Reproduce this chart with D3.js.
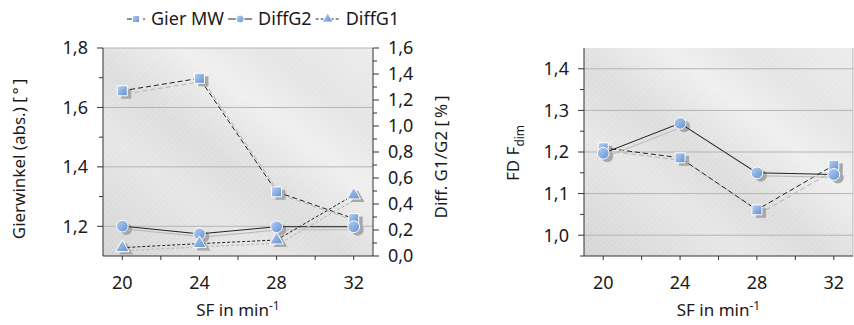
<!DOCTYPE html>
<html>
<head>
<meta charset="utf-8">
<script src="https://cdn.jsdelivr.net/npm/d3@7"></script>
<style>
  body { margin: 0; background: #fff; }
  text { font-family: "Noto Sans", sans-serif; fill: #1a1a1a; }
</style>
</head>
<body>
<script>
const width = 854;
const height = 325;

// data
const sf = [20, 24, 28, 32];
const gierMW = [1.656, 1.698, 1.316, 1.226];   // left axis
const diffG2 = [0.23, 0.17, 0.225, 0.225];     // right axis
const diffG1 = [0.064, 0.095, 0.123, 0.469];   // right axis
const fdSquares = [1.21, 1.186, 1.061, 1.168];
const fdCircles = [1.197, 1.269, 1.15, 1.146];

const xTicks = [20, 24, 28, 32];
const xMinor = [22, 26, 30];
const leftTicks = [1.2, 1.4, 1.6, 1.8];
const leftMinor = [1.3, 1.5, 1.7];
const rightTicks = [0, 0.2, 0.4, 0.6, 0.8, 1.0, 1.2, 1.4, 1.6];
const rightMinor = [0.1, 0.3, 0.5, 0.7, 0.9, 1.1, 1.3, 1.5];
const fdTicks = [1.0, 1.1, 1.2, 1.3, 1.4];
const fdMinor = [0.95, 1.05, 1.15, 1.25, 1.35];

const legendNames = ["Gier MW", "DiffG2", "DiffG1"];

const fmt = d3.formatLocale({decimal: ",", thousands: ".", grouping: [3], currency: ["", "€"]}).format(".1f");

const svg = d3.select('body').append('svg')
    .attr('width', width)
    .attr('height', height);

const defs = svg.append('defs');

const bg = defs.append('linearGradient').attr('id', 'bg')
    .attr('x1', 0).attr('y1', 1).attr('x2', 1).attr('y2', 0);
[[0, '#d4d4d4'], [0.3, '#e6e6e6'], [0.45, '#dcdcdc'], [0.65, '#efefef'], [0.8, '#e4e4e4'], [1, '#ececec']]
    .forEach(s => bg.append('stop').attr('offset', s[0]).attr('stop-color', s[1]));

const hatch = defs.append('pattern').attr('id', 'hatch')
    .attr('width', 4).attr('height', 4)
    .attr('patternUnits', 'userSpaceOnUse')
    .attr('patternTransform', 'rotate(45)');
hatch.append('line').attr('x1', 0).attr('y1', 0).attr('x2', 0).attr('y2', 4)
    .attr('stroke', '#fff').attr('stroke-width', 1).attr('opacity', 0.35);

const mk = defs.append('linearGradient').attr('id', 'mk')
    .attr('x1', 0).attr('y1', 0).attr('x2', 1).attr('y2', 1);
mk.append('stop').attr('offset', 0).attr('stop-color', '#b9d1f0');
mk.append('stop').attr('offset', 1).attr('stop-color', '#5f8fd4');

const symbols = {
    square: d3.symbol().type(d3.symbolSquare).size(100),
    circle: d3.symbol().type(d3.symbolCircle).size(110),
    triangle: d3.symbol().type(d3.symbolTriangle).size(80)
};
const dashes = {square: '5,3', circle: null, triangle: '3,2'};

function drawFrame(g, x, y, w, h) {
    g.append('rect').attr('x', x).attr('y', y).attr('width', w).attr('height', h).attr('fill', 'url(#bg)');
    g.append('rect').attr('x', x).attr('y', y).attr('width', w).attr('height', h).attr('fill', 'url(#hatch)');
}

function drawSeries(g, x, y, values, kind) {
    const line = d3.line().x((d, i) => x(sf[i])).y(d => y(d));
    // shadow
    const sh = g.append('g').attr('transform', 'translate(4,3)');
    sh.append('path').datum(values)
        .attr('fill', 'none').attr('stroke', '#bdbdbd').attr('stroke-width', 1.2)
        .attr('stroke-dasharray', dashes[kind]).attr('d', line);
    sh.selectAll('path.s').data(values).enter().append('path')
        .attr('class', 's')
        .attr('transform', (d, i) => `translate(${x(sf[i])},${y(d)})`)
        .attr('fill', '#a8a8a8')
        .attr('d', symbols[kind]);
    // main
    g.append('path').datum(values)
        .attr('fill', 'none').attr('stroke', '#222').attr('stroke-width', 1)
        .attr('stroke-dasharray', dashes[kind]).attr('d', line);
    g.selectAll('path.m' + kind).data(values).enter().append('path')
        .attr('class', 'm' + kind)
        .attr('transform', (d, i) => `translate(${x(sf[i])},${y(d)})`)
        .attr('fill', 'url(#mk)').attr('stroke', '#fff').attr('stroke-width', 1)
        .attr('d', symbols[kind]);
}

function drawXAxis(g, x, y0, cx) {
    g.append('line').attr('x1', x.range()[0]).attr('x2', x.range()[1])
        .attr('y1', y0).attr('y2', y0).attr('stroke', '#333');
    g.selectAll('line.xt').data(xTicks.concat(xMinor)).enter().append('line')
        .attr('x1', d => x(d)).attr('x2', d => x(d))
        .attr('y1', y0).attr('y2', y0 + 4).attr('stroke', '#333');
    g.selectAll('text.xl').data(xTicks).enter().append('text')
        .attr('x', d => x(d)).attr('y', y0 + 33)
        .attr('text-anchor', 'middle').style('font-size', '18px')
        .text(d => d);
    const t = g.append('text').attr('x', cx).attr('y', y0 + 60)
        .attr('text-anchor', 'middle').style('font-size', '17px');
    t.append('tspan').text('SF in min');
    t.append('tspan').attr('dy', -6).style('font-size', '12px').text('-1');
}

function drawYAxis(g, y, x0, major, minor, dir) {
    g.append('line').attr('x1', x0).attr('x2', x0)
        .attr('y1', y.range()[0]).attr('y2', y.range()[1]).attr('stroke', '#333');
    g.selectAll(null).data(major).enter().append('line')
        .attr('x1', x0).attr('x2', x0 + dir * 6)
        .attr('y1', d => y(d)).attr('y2', d => y(d)).attr('stroke', '#333');
    g.selectAll(null).data(minor).enter().append('line')
        .attr('x1', x0).attr('x2', x0 + dir * 4)
        .attr('y1', d => y(d)).attr('y2', d => y(d)).attr('stroke', '#333');
    g.selectAll(null).data(major).enter().append('text')
        .attr('x', x0 + dir * 15).attr('y', d => y(d)).attr('dy', '0.36em')
        .attr('text-anchor', dir < 0 ? 'end' : 'start').style('font-size', '18px')
        .text(d => fmt(d));
}

function grid(g, x, y, values) {
    g.selectAll(null).data(values).enter().append('line')
        .attr('x1', x.range()[0]).attr('x2', x.range()[1])
        .attr('y1', d => y(d)).attr('y2', d => y(d))
        .attr('stroke', '#b4b4b4').attr('stroke-width', 1);
}

// ---------- left chart ----------
const L = {left: 103, right: 373, top: 48, bottom: 256};
const xL = d3.scaleLinear().domain([19, 33]).range([L.left, L.right]);
const yL = d3.scaleLinear().domain([1.1, 1.8]).range([L.bottom, L.top]);
const yR = d3.scaleLinear().domain([0, 1.6]).range([L.bottom, L.top]);

const gL = svg.append('g');
drawFrame(gL, L.left, L.top, L.right - L.left, L.bottom - L.top);
grid(gL, xL, yL, leftTicks);
drawSeries(gL, xL, yL, gierMW, 'square');
drawSeries(gL, xL, yR, diffG2, 'circle');
drawSeries(gL, xL, yR, diffG1, 'triangle');
drawYAxis(gL, yL, L.left, leftTicks, leftMinor, -1);
drawYAxis(gL, yR, L.right, rightTicks, rightMinor, 1);
drawXAxis(gL, xL, L.bottom, (L.left + L.right) / 2);

gL.append('text').attr('transform', `translate(25,159) rotate(-90)`)
    .attr('text-anchor', 'middle').style('font-size', '17px')
    .text('Gierwinkel (abs.) [\u2009°\u2009]');
gL.append('text').attr('transform', `translate(447,157) rotate(-90)`)
    .attr('text-anchor', 'middle').style('font-size', '17px')
    .text('Diff. G1/G2 [\u2009%\u2009]');

// legend
const legend = svg.append('g');
const kinds = ['square', 'circle', 'triangle'];
const lineLen = [18, 24, 24];
let lx = 127;
legendNames.forEach((name, i) => {
    const kind = kinds[i];
    legend.append('line').attr('x1', lx).attr('x2', lx + lineLen[i])
        .attr('y1', 19).attr('y2', 19).attr('stroke', '#222')
        .attr('stroke-dasharray', dashes[kind]);
    legend.append('path').attr('transform', `translate(${lx + lineLen[i] / 2},19)`)
        .attr('fill', 'url(#mk)').attr('stroke', '#fff')
        .attr('d', d3.symbol().type(kind === 'square' ? d3.symbolSquare : kind === 'circle' ? d3.symbolCircle : d3.symbolTriangle).size(50));
    const t = legend.append('text').attr('x', lx + lineLen[i] + 6).attr('y', 19).attr('dy', '0.36em')
        .style('font-size', '18px').text(name);
    lx += lineLen[i] + 6 + t.node().getComputedTextLength() + 4;
});

// ---------- right chart ----------
const R = {left: 584, right: 853, top: 48, bottom: 256};
const xF = d3.scaleLinear().domain([19, 33]).range([R.left, R.right]);
const yF = d3.scaleLinear().domain([0.95, 1.45]).range([R.bottom, R.top]);

const gR = svg.append('g');
drawFrame(gR, R.left, R.top, R.right - R.left, R.bottom - R.top);
grid(gR, xF, yF, fdTicks);
gR.append('line').attr('x1', R.right).attr('x2', R.right).attr('y1', R.top).attr('y2', R.bottom)
    .attr('stroke', '#bbb');
drawSeries(gR, xF, yF, fdSquares, 'square');
drawSeries(gR, xF, yF, fdCircles, 'circle');
drawYAxis(gR, yF, R.left, fdTicks, fdMinor, -1);
drawXAxis(gR, xF, R.bottom, (R.left + R.right) / 2);

const fdTitle = gR.append('text').attr('transform', `translate(519,153) rotate(-90)`)
    .attr('text-anchor', 'middle').style('font-size', '17px');
fdTitle.append('tspan').text('FD F');
fdTitle.append('tspan').attr('dy', 5).style('font-size', '12px').text('dim');
</script>
</body>
</html>
